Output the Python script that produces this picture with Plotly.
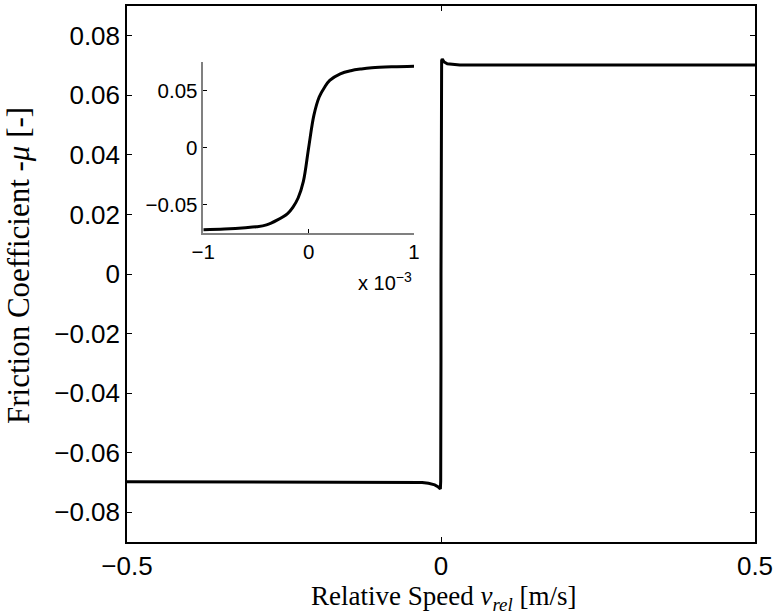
import plotly.graph_objects as go

# Main curve: relative speed [m/s] vs friction coefficient
v_main = [-0.5, -0.2, -0.05, -0.03, -0.02, -0.01, -0.005, -0.002, -0.001,
          -0.0005, -0.0003, -0.0002, -0.0001, -0.00005, 0.0,
          0.00005, 0.0001, 0.0002, 0.0003, 0.0005, 0.001,
          0.002, 0.005, 0.01, 0.02, 0.03, 0.05, 0.2, 0.5]
mu_main = [-0.0698, -0.0698, -0.0699, -0.0700, -0.0703, -0.0708, -0.0714, -0.0720, -0.0722,
           -0.0697, -0.0638, -0.0580, -0.0443, -0.0297, 0.0,
           0.0286, 0.0446, 0.0592, 0.0650, 0.0693, 0.0717,
           0.0722, 0.0712, 0.0706, 0.0703, 0.0702, 0.0702, 0.0702, 0.0702]

# Inset curve (zoom near zero)
v_inset = [-0.001, -0.0008, -0.0006, -0.0005, -0.0004, -0.0003, -0.0002, -0.00015, -0.0001,
           -0.00005, 0.0, 0.00005, 0.0001, 0.00015, 0.0002, 0.0003, 0.0004,
           0.0005, 0.0006, 0.0008, 0.001]
mu_inset = [-0.0723, -0.0716, -0.0705, -0.0697, -0.0680, -0.0638, -0.0580, -0.0525, -0.0443,
            -0.0297, 0.0, 0.0286, 0.0446, 0.0530, 0.0592, 0.0650, 0.0678,
            0.0693, 0.0703, 0.0712, 0.0717]

main_xticks = [-0.5, 0, 0.5]
main_xticktext = ["\u22120.5", "0", "0.5"]
main_yticks = [-0.08, -0.06, -0.04, -0.02, 0, 0.02, 0.04, 0.06, 0.08]
main_yticktext = ["\u22120.08", "\u22120.06", "\u22120.04", "\u22120.02", "0",
                  "0.02", "0.04", "0.06", "0.08"]
inset_xticks = [-0.001, 0, 0.001]
inset_xticktext = ["\u22121", "0", "1"]
inset_yticks = [-0.05, 0, 0.05]
inset_yticktext = ["\u22120.05", "0", "0.05"]

W, H = 778, 615
L, R, T, B = 127, 755, 4, 542
pw, ph = R - L, B - T

fig = go.Figure()
fig.add_trace(go.Scatter(x=v_main, y=mu_main, mode="lines",
                         line=dict(color="black", width=3), xaxis="x", yaxis="y",
                         showlegend=False, hoverinfo="skip"))
fig.add_trace(go.Scatter(x=v_inset, y=mu_inset, mode="lines", line_shape="spline",
                         line=dict(color="black", width=3), xaxis="x2", yaxis="y2",
                         showlegend=False, hoverinfo="skip"))

tick_font = dict(family="Liberation Sans, Arial, sans-serif", size=26, color="black")
inset_font = dict(family="Liberation Sans, Arial, sans-serif", size=20.5, color="black")
serif_x = dict(family="Liberation Serif, DejaVu Serif, serif", size=27, color="black")
serif_y = dict(family="Liberation Serif, DejaVu Serif, serif", size=31, color="black")

ix0, ix1 = 203.3, 414
iy_top, iy_bot = 60.7, 231.7

fig.update_layout(
    width=W, height=H,
    margin=dict(l=L, r=W - R, t=T, b=H - B, pad=0),
    paper_bgcolor="white", plot_bgcolor="white",
    xaxis=dict(range=[-0.5, 0.5], domain=[0, 1], tickvals=main_xticks, ticktext=main_xticktext,
               ticks="inside", ticklen=5, tickcolor="black", tickwidth=1,
               showline=True, linecolor="black", linewidth=1.5, mirror="ticks",
               showgrid=False, zeroline=False, tickfont=tick_font),
    yaxis=dict(range=[-0.09, 0.09], domain=[0, 1], tickvals=main_yticks, ticktext=main_yticktext,
               ticks="inside", ticklen=5, tickcolor="black", tickwidth=1,
               showline=True, linecolor="black", linewidth=1.5, mirror="ticks",
               showgrid=False, zeroline=False, tickfont=tick_font),
    xaxis2=dict(range=[-0.001, 0.001], domain=[(ix0 - L) / pw, (ix1 - L) / pw], anchor="y2",
                tickvals=inset_xticks, ticktext=inset_xticktext,
                ticks="inside", ticklen=4, tickcolor="black", tickwidth=1,
                showline=True, linecolor="#808080", linewidth=1.5,
                showgrid=False, zeroline=False, tickfont=inset_font),
    yaxis2=dict(range=[-0.075, 0.075], domain=[(B - iy_bot) / ph, (B - iy_top) / ph], anchor="x2",
                tickvals=inset_yticks, ticktext=inset_yticktext,
                ticks="inside", ticklen=4, tickcolor="black", tickwidth=1,
                showline=True, linecolor="#808080", linewidth=1.5,
                showgrid=False, zeroline=False, tickfont=inset_font),
    annotations=[
        dict(text="Relative Speed <i>v</i><sub><i>rel</i></sub> [m/s]",
             xref="paper", yref="paper", x=(443 - L) / pw, y=-(598 - B) / ph,
             xanchor="center", yanchor="middle", showarrow=False, font=serif_x),
        dict(text="Friction Coefficient -<i>\u03bc</i> [-]",
             xref="paper", yref="paper", x=-(L - 18) / pw, y=(B - 265) / ph,
             xanchor="center", yanchor="middle", textangle=-90, showarrow=False, font=serif_y),
        dict(text="x 10<sup>\u22123</sup>",
             xref="paper", yref="paper", x=(414 - L) / pw, y=(B - 281) / ph,
             xanchor="right", yanchor="middle", showarrow=False,
             font=dict(family="Liberation Sans, Arial, sans-serif", size=20, color="black")),
    ],
)

fig.write_html("out.html")
